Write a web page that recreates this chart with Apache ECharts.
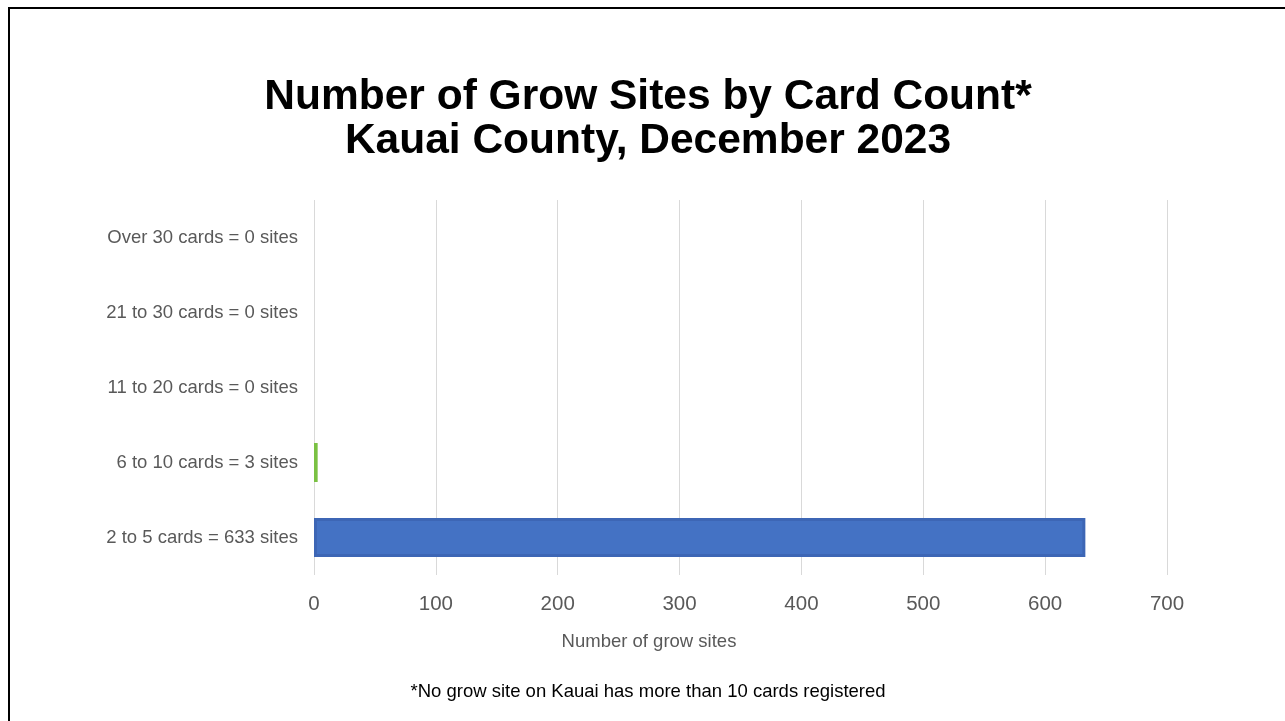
<!DOCTYPE html>
<html><head><meta charset="utf-8">
<script src="https://cdn.jsdelivr.net/npm/echarts@6/dist/echarts.min.js"></script>
<style>
html,body{margin:0;padding:0;background:#fff;width:1285px;height:721px;overflow:hidden;}
#frame{position:absolute;left:8px;top:7px;width:1290px;height:730px;border-left:2px solid #000;border-top:2px solid #000;box-sizing:border-box;}
#c{position:absolute;left:0;top:0;width:1285px;height:721px;}
</style></head>
<body>
<div id="frame"></div>
<div id="c"></div>
<script>
const categories = ["2 to 5 cards = 633 sites","6 to 10 cards = 3 sites","11 to 20 cards = 0 sites","21 to 30 cards = 0 sites","Over 30 cards = 0 sites"];
const values = [633, 3, 0, 0, 0];
const barColors = ["#4472C4", "#7AC143", "#4472C4", "#4472C4", "#4472C4"];
const xTicks = [0, 100, 200, 300, 400, 500, 600, 700];
const titleLines = ["Number of Grow Sites by Card Count*", "Kauai County, December 2023"];
const xAxisName = "Number of grow sites";
const footnote = "*No grow site on Kauai has more than 10 cards registered";

const chart = echarts.init(document.getElementById('c'));
chart.setOption({
  animation: false,
  backgroundColor: 'transparent',
  title: {
    text: titleLines.join('\n'),
    left: 643, top: 70, textAlign: 'center',
    textStyle: {fontFamily: 'Liberation Sans, Arial', fontSize: 42.5, fontWeight: 'bold', color: '#000', lineHeight: 44}
  },
  graphic: [{
    type: 'text', x: 649, y: 632,
    style: {text: xAxisName, font: '18.5px "Liberation Sans", Arial', fill: '#595959', textAlign: 'center'}
  }, {
    type: 'text', x: 648, y: 682,
    style: {text: footnote, font: '18.5px "Liberation Sans", Arial', fill: '#000', textAlign: 'center'}
  }],
  grid: {left: 314, right: 1285 - 1167, top: 200, bottom: 721 - 575, containLabel: false},
  xAxis: {
    type: 'value', min: xTicks[0], max: xTicks[xTicks.length - 1], interval: 100,
    axisLine: {show: false}, axisTick: {show: false},
    axisLabel: {fontFamily: 'Liberation Sans, Arial', fontSize: 20.5, color: '#595959', margin: 19},
    splitLine: {lineStyle: {color: '#d9d9d9', width: 1}}
  },
  yAxis: {
    type: 'category', data: categories,
    axisLine: {show: false}, axisTick: {show: false},
    axisLabel: {fontFamily: 'Liberation Sans, Arial', fontSize: 18.5, color: '#595959', margin: 16, padding: [3, 0, 0, 0]}
  },
  series: [{
    type: 'bar', barWidth: '52%',
    data: values.map((v, i) => ({value: v, itemStyle: {color: barColors[i], borderColor: i === 0 ? '#3d66b5' : barColors[i], borderWidth: i === 0 ? 3 : 0}}))
  }]
});
</script>
</body></html>
